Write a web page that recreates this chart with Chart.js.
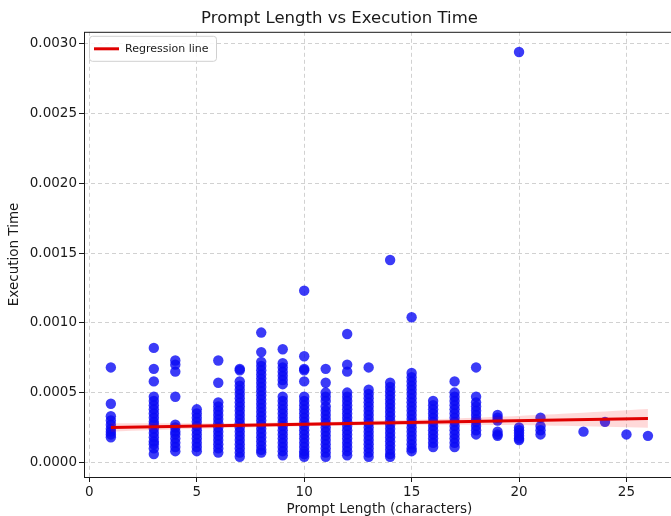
<!DOCTYPE html>
<html>
<head>
<meta charset="utf-8">
<script src="https://cdn.jsdelivr.net/npm/chart.js@4.4.1/dist/chart.umd.min.js"></script>
<style>
  html, body { margin: 0; padding: 0; background: #fff; overflow: hidden; }
  #wrap { width: 671px; height: 516px; overflow: hidden; }
</style>
</head>
<body>
<div id="wrap"><canvas id="myChart" width="680" height="516"></canvas></div>
<script>
// prompt length (characters) -> execution times
var promptLengths = [1, 3, 4, 5, 6, 7, 8, 9, 10, 11, 12, 13, 14, 15, 16, 17, 18, 19, 20, 21, 23, 24, 25, 26];
var execTimes = [
    [0.00068, 0.00042, 0.00033, 0.00030, 0.00027, 0.00024, 0.00022, 0.00020, 0.00018],
    [0.00082, 0.00067, 0.00058, 0.00047, 0.00044, 0.00041, 0.00038, 0.00035, 0.00032, 0.00029, 0.00027, 0.00024, 0.00021, 0.00018, 0.00015, 0.00013, 0.00010, 0.00006],
    [0.00073, 0.00070, 0.00065, 0.00047, 0.00027, 0.00025, 0.00022, 0.00020, 0.00017, 0.00014, 0.00011, 0.00008],
    [0.00038, 0.00035, 0.00032, 0.00029, 0.00026, 0.00023, 0.00020, 0.00017, 0.00014, 0.00011, 0.00008],
    [0.00073, 0.00057, 0.00043, 0.00040, 0.00037, 0.00034, 0.00031, 0.00028, 0.00025, 0.00022, 0.00019, 0.00016, 0.00013, 0.00010, 0.00007],
    [0.00067, 0.00066, 0.00058, 0.00055, 0.00052, 0.00049, 0.00046, 0.00043, 0.00040, 0.00037, 0.00034, 0.00031, 0.00028, 0.00025, 0.00022, 0.00019, 0.00016, 0.00013, 0.00010, 0.00007, 0.00004],
    [0.00093, 0.00079, 0.00072, 0.00069, 0.00066, 0.00063, 0.00060, 0.00057, 0.00054, 0.00051, 0.00048, 0.00045, 0.00042, 0.00039, 0.00036, 0.00033, 0.00030, 0.00027, 0.00024, 0.00021, 0.00018, 0.00015, 0.00012, 0.00009, 0.00007],
    [0.00081, 0.00071, 0.00068, 0.00065, 0.00062, 0.00059, 0.00056, 0.00047, 0.00044, 0.00041, 0.00038, 0.00035, 0.00032, 0.00029, 0.00026, 0.00023, 0.00020, 0.00017, 0.00014, 0.00011, 0.00008, 0.00005],
    [0.00123, 0.00076, 0.00067, 0.00066, 0.00058, 0.00047, 0.00044, 0.00041, 0.00038, 0.00035, 0.00032, 0.00029, 0.00026, 0.00023, 0.00020, 0.00017, 0.00014, 0.00011, 0.00008, 0.00006, 0.00004],
    [0.00067, 0.00057, 0.00050, 0.00047, 0.00044, 0.00040, 0.00037, 0.00034, 0.00031, 0.00028, 0.00025, 0.00022, 0.00019, 0.00016, 0.00013, 0.00010, 0.00007, 0.00004],
    [0.00092, 0.00070, 0.00065, 0.00050, 0.00047, 0.00044, 0.00041, 0.00038, 0.00035, 0.00032, 0.00029, 0.00026, 0.00023, 0.00020, 0.00017, 0.00014, 0.00011, 0.00008, 0.00005],
    [0.00068, 0.00052, 0.00049, 0.00046, 0.00043, 0.00040, 0.00037, 0.00034, 0.00031, 0.00028, 0.00025, 0.00022, 0.00019, 0.00016, 0.00013, 0.00010, 0.00007, 0.00004],
    [0.00145, 0.00057, 0.00054, 0.00051, 0.00048, 0.00045, 0.00042, 0.00039, 0.00036, 0.00033, 0.00030, 0.00027, 0.00024, 0.00021, 0.00018, 0.00015, 0.00012, 0.00009, 0.00006, 0.00004],
    [0.00104, 0.00064, 0.00061, 0.00058, 0.00055, 0.00052, 0.00049, 0.00046, 0.00043, 0.00040, 0.00037, 0.00034, 0.00031, 0.00028, 0.00025, 0.00022, 0.00019, 0.00016, 0.00013, 0.00010, 0.00008],
    [0.00044, 0.00041, 0.00038, 0.00035, 0.00032, 0.00029, 0.00026, 0.00023, 0.00020, 0.00017, 0.00014, 0.00011],
    [0.00058, 0.00050, 0.00047, 0.00044, 0.00041, 0.00038, 0.00035, 0.00032, 0.00029, 0.00026, 0.00023, 0.00020, 0.00017, 0.00014, 0.00011],
    [0.00068, 0.00047, 0.00043, 0.00040, 0.00037, 0.00034, 0.00031, 0.00029, 0.00026, 0.00023, 0.00020],
    [0.00034, 0.00032, 0.00030, 0.00022, 0.00020, 0.00019],
    [0.00294, 0.00025, 0.00023, 0.00021, 0.00019, 0.00017, 0.00016],
    [0.00032, 0.00026, 0.00023, 0.00020],
    [0.00022],
    [0.00029],
    [0.00020],
    [0.00019]
];

// fitted line and its confidence band
var regX = [1, 26];
var regY = [0.000250, 0.000315];
var bandX = [1, 5, 10, 13, 16, 19, 22, 26];
var bandLow = [0.000220, 0.000240, 0.000258, 0.000265, 0.000270, 0.000268, 0.000262, 0.000248];
var bandHigh = [0.000280, 0.000280, 0.000288, 0.000297, 0.000308, 0.000326, 0.000348, 0.000382];

var xTicks = [0, 5, 10, 15, 20, 25];
var yTicks = [0.0000, 0.0005, 0.0010, 0.0015, 0.0020, 0.0025, 0.0030];

var points = [];
promptLengths.forEach(function (len, i) {
    execTimes[i].forEach(function (t) { points.push({ x: len, y: t }) })
});
var toXY = function (xs, ys) { return xs.map(function (x, i) { return { x: x, y: ys[i] } }) };

Chart.defaults.font.family = "'DejaVu Sans', sans-serif";
Chart.defaults.color = "#1a1a1a";

// axes frame + legend box drawn inside the plot like matplotlib does
const framePlugin = {
    id: "frame",
    afterDraw(chart) {
        const { ctx, chartArea: a } = chart;
        ctx.save();
        ctx.strokeStyle = "#1a1a1a";
        ctx.lineWidth = 1;
        ctx.strokeRect(a.left + 0.5, a.top + 0.5, a.right - a.left - 1, a.bottom - a.top);

        const ds = chart.data.datasets[0];
        const bx = a.left + 5, by = a.top + 4, bw = 127, bh = 25;
        ctx.fillStyle = "rgba(255,255,255,0.85)";
        ctx.strokeStyle = "#d0d0d0";
        ctx.beginPath();
        ctx.roundRect(bx + 0.5, by + 0.5, bw, bh, 3);
        ctx.fill();
        ctx.stroke();
        ctx.strokeStyle = ds.borderColor;
        ctx.lineWidth = 3;
        ctx.beginPath();
        ctx.moveTo(bx + 5, by + bh / 2 + 0.5);
        ctx.lineTo(bx + 30, by + bh / 2 + 0.5);
        ctx.stroke();
        ctx.fillStyle = "#1a1a1a";
        ctx.font = "11px 'DejaVu Sans', sans-serif";
        ctx.textBaseline = "middle";
        ctx.fillText(ds.label, bx + 36, by + bh / 2 + 1);
        ctx.restore();
    }
};

new Chart("myChart", {
    type: "scatter",
    data: {
        datasets: [{
            type: "line",
            label: "Regression line",
            data: toXY(regX, regY),
            borderColor: "#e00000",
            borderWidth: 3,
            pointRadius: 0,
            fill: false
        }, {
            type: "line",
            label: "band high",
            data: toXY(bandX, bandHigh),
            borderWidth: 0,
            borderColor: "rgba(0,0,0,0)",
            pointRadius: 0,
            tension: 0.3,
            fill: "+1",
            backgroundColor: "rgba(255,0,0,0.15)"
        }, {
            type: "line",
            label: "band low",
            data: toXY(bandX, bandLow),
            borderWidth: 0,
            borderColor: "rgba(0,0,0,0)",
            pointRadius: 0,
            tension: 0.3,
            fill: false
        }, {
            label: "points",
            data: points,
            backgroundColor: "rgba(10,10,245,0.8)",
            borderWidth: 0,
            pointRadius: 5.2
        }]
    },
    options: {
        responsive: false,
        animation: false,
        layout: { padding: { left: 0, right: 1, top: 0, bottom: 0 } },
        plugins: {
            legend: { display: false },
            tooltip: { enabled: false },
            title: {
                display: true,
                text: "Prompt Length vs Execution Time",
                font: { size: 16.5, weight: "normal" },
                color: "#1a1a1a",
                padding: { top: 9, bottom: 3 }
            }
        },
        scales: {
            x: {
                type: "linear",
                min: -0.25,
                max: 27.25,
                afterFit: function (s) { s.height = 39 },
                afterBuildTicks: function (s) { s.ticks = xTicks.map(function (v) { return { value: v } }) },
                ticks: { font: { size: 13.5 }, padding: 2, color: "#1a1a1a" },
                grid: { color: "rgba(190,190,190,0.7)", tickColor: "#1a1a1a", tickLength: 5, lineWidth: 1 },
                border: { display: false, dash: [4, 3] },
                title: { display: true, text: "Prompt Length (characters)", font: { size: 13.5, lineHeight: 1 }, color: "#1a1a1a", padding: { top: 0, bottom: 0 } }
            },
            y: {
                min: -0.000105,
                max: 0.003085,
                afterFit: function (s) { s.width = 84 },
                afterBuildTicks: function (s) { s.ticks = yTicks.map(function (v) { return { value: v } }) },
                ticks: {
                    font: { size: 13.5 },
                    padding: 2,
                    color: "#1a1a1a",
                    callback: function (v) { return v.toFixed(4) }
                },
                grid: { color: "rgba(190,190,190,0.7)", tickColor: "#1a1a1a", tickLength: 5, lineWidth: 1 },
                border: { display: false, dash: [4, 3] },
                title: { display: true, text: "Execution Time", font: { size: 13.5 }, color: "#1a1a1a", padding: { top: 6, bottom: 0 } }
            }
        }
    },
    plugins: [framePlugin]
});
</script>
</body>
</html>
